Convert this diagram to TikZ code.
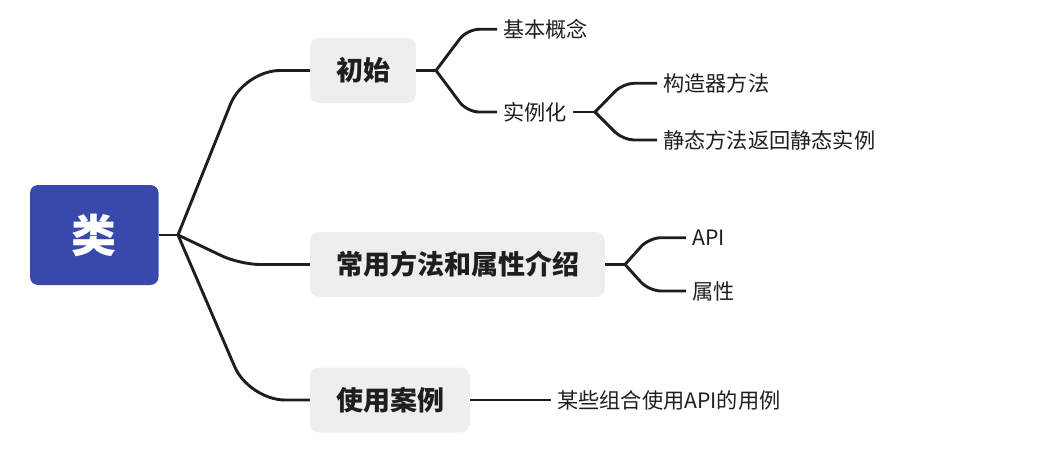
\documentclass[tikz,border=0pt]{standalone}
\usepackage{fontspec}
\setmainfont{Noto Sans CJK SC}
\definecolor{rootblue}{HTML}{3949AB}
\definecolor{boxgrey}{HTML}{EEEEEE}
\definecolor{ink}{HTML}{1E1E1E}
\begin{document}
\begin{tikzpicture}[x=1pt,y=-1pt,
  conn/.style={draw=ink, line width=2.9pt},
  rootbox/.style={fill=rootblue, rounded corners=8pt, minimum width=128.5pt, minimum height=100pt, text=white, font=\fontsize{45}{45}\selectfont\bfseries, inner sep=0pt},
  lonebox/.style={fill=boxgrey, rounded corners=9pt, minimum height=65pt, text=ink, font=\fontsize{27}{27}\selectfont\bfseries, inner sep=0pt},
  leaf/.style={text=ink, font=\fontsize{21.2}{21.2}\selectfont, inner xsep=6pt, inner ysep=0pt, anchor=west}]
\useasboundingbox (0,0) rectangle (1037,452);
% nodes
\node[rootbox] (root) at (94.25,235) {类};
\node[lonebox, minimum width=106pt] (chushi) at (363,70.5) {初始};
\node[lonebox, minimum width=295pt] (changyong) at (457.5,264.5) {常用方法和属性介绍};
\node[lonebox, minimum width=160pt] (anli) at (390,400) {使用案例};
\node[leaf] (jiben) at (497,29.3) {基本概念};
\node[leaf] (shili) at (497,112) {实例化};
\node[leaf] (gouzao) at (657,83.3) {构造器方法};
\node[leaf] (jingtai) at (657,140) {静态方法返回静态实例};
\node[leaf] (api) at (686,237.7) {API};
\node[leaf] (shuxing) at (686,291) {属性};
\node[leaf] (mouxie) at (551,400) {某些组合使用API的用例};
% forks
\coordinate (f0) at (178,235);
\coordinate (f1) at (436,70.5);
\coordinate (f2) at (595,112);
\coordinate (f3) at (625,264.5);
% connectors
\draw[conn] (root.east) -- (f0);
\draw[conn, rounded corners=36pt] (f0) -- (244,0 |- chushi.west) -- (chushi.west);
\draw[conn, rounded corners=20pt] (f0) -- (240,0 |- changyong.west) -- (changyong.west);
\draw[conn, rounded corners=36pt] (f0) -- (249,0 |- anli.west) -- (anli.west);
\draw[conn] (chushi.east) -- (f1);
\draw[conn, rounded corners=12pt] (f1) -- (467,0 |- jiben.west) -- (jiben.west);
\draw[conn, rounded corners=12pt] (f1) -- (467,0 |- shili.west) -- (shili.west);
\draw[conn] (shili.east) -- (f2);
\draw[conn, rounded corners=11pt] (f2) -- (623,0 |- gouzao.west) -- (gouzao.west);
\draw[conn, rounded corners=11pt] (f2) -- (623,0 |- jingtai.west) -- (jingtai.west);
\draw[conn] (changyong.east) -- (f3);
\draw[conn, rounded corners=12pt] (f3) -- (649,0 |- api.west) -- (api.west);
\draw[conn, rounded corners=12pt] (f3) -- (649,0 |- shuxing.west) -- (shuxing.west);
\draw[conn] (anli.east) -- (mouxie.west);
\end{tikzpicture}
\end{document}
